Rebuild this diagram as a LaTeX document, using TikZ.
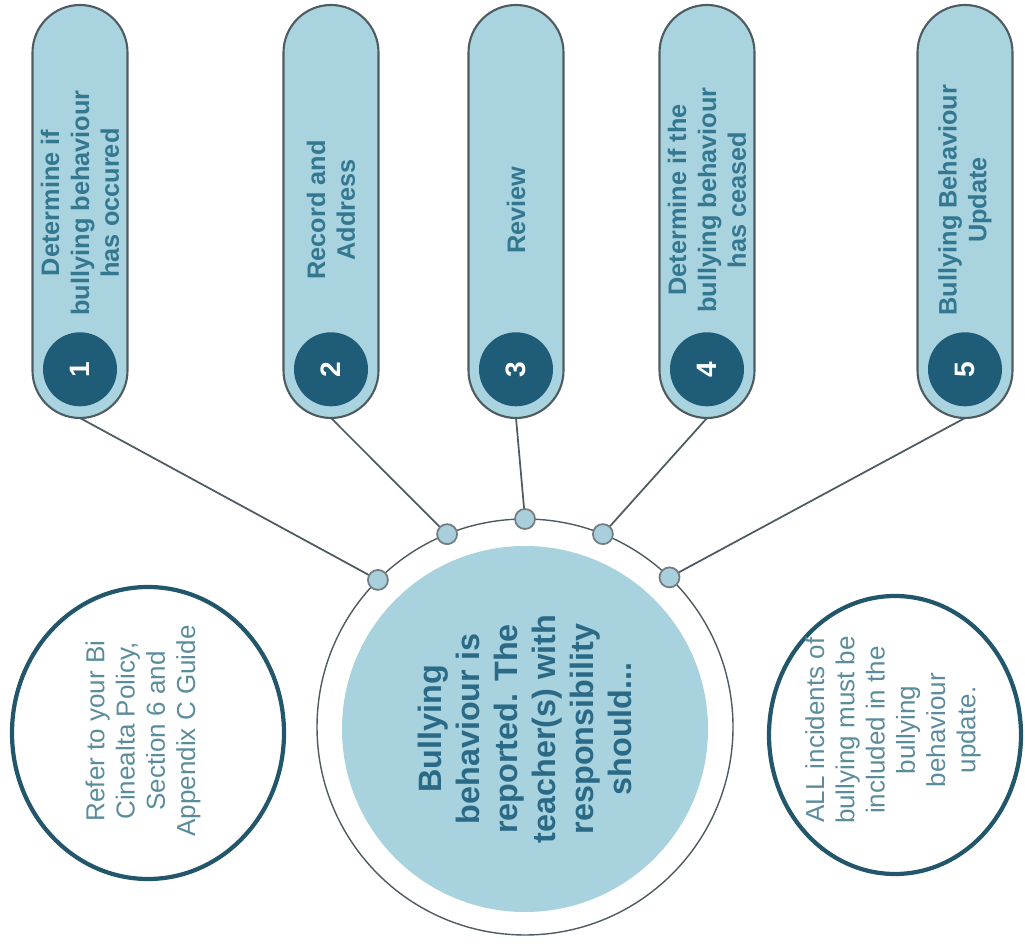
\documentclass[tikz,border=0pt]{standalone}
\usepackage{fontspec}
\setmainfont{Liberation Sans}
\usetikzlibrary{%
  positioning,%
  shapes.geometric%
}
\definecolor{pillblue}{HTML}{A9D4DF}
\definecolor{coreblue}{HTML}{A8D2DD}
\definecolor{numteal}{HTML}{1E5C78}
\definecolor{steptext}{HTML}{347791}
\definecolor{coretext}{HTML}{2A6A86}
\definecolor{sidetext}{HTML}{5A8C9C}
\definecolor{sidering}{HTML}{22566A}
\definecolor{edgegray}{HTML}{4E5C62}
\definecolor{dotblue}{HTML}{AACFDC}

\begin{document}
\begin{tikzpicture}[
    pill/.style={draw=edgegray, line width=.6pt, fill=pillblue,
      minimum width=.95cm, minimum height=4.13cm,
      rounded corners=.475cm, inner sep=0pt, outer sep=0pt},
    numdot/.style={circle, fill=numteal, minimum size=.74cm, inner sep=0pt,
      text=white, font=\fontsize{8}{8}\selectfont\bfseries},
    pilltext/.style={rotate=90, align=center, text=steptext,
      font=\fontsize{7.2}{8.5}\selectfont\bfseries},
    sidenote/.style={ellipse, draw=sidering, line width=1.2pt, inner sep=0pt},
    sidetxt/.style={rotate=90, align=center, text=sidetext,
      font=\fontsize{7.4}{8.6}\selectfont},
    hub/.style={circle, draw=edgegray, line width=.4pt, minimum size=4.16cm,
      inner sep=0pt, outer sep=0pt},
    link/.style={draw=edgegray, line width=.5pt},
    joint/.style={circle, draw=edgegray!80, line width=.5pt, fill=dotblue,
      minimum size=.2cm, inner sep=0pt}
  ]

    \useasboundingbox (0,0) rectangle (10.25,-9.45);

    %% the five steps
    \node[pill] (p1) at (0.80,-2.115) {};
    \node[pill] (p2) at (3.31,-2.115) {};
    \node[pill] (p3) at (5.16,-2.115) {};
    \node[pill] (p4) at (7.07,-2.115) {};
    \node[pill] (p5) at (9.65,-2.115) {};

    %% numbers
    \node[numdot, above=.11cm of p1.south] (n1) {\rotatebox{90}{1}};
    \node[numdot, above=.11cm of p2.south] (n2) {\rotatebox{90}{2}};
    \node[numdot, above=.11cm of p3.south] (n3) {\rotatebox{90}{3}};
    \node[numdot, above=.11cm of p4.south] (n4) {\rotatebox{90}{4}};
    \node[numdot, above=.11cm of p5.south] (n5) {\rotatebox{90}{5}};

    %% step texts
    \node[pilltext] (t1) at (0.80,-2.03) {Determine if\\bullying behaviour\\has occured};
    \node[pilltext] (t2) at (3.31,-2.10) {Record and\\Address};
    \node[pilltext] (t3) at (5.16,-2.10) {Review};
    \node[pilltext] (t4) at (7.07,-2.00) {Determine if the\\bullying behaviour\\has ceased};
    \node[pilltext] (t5) at (9.65,-2.00) {Bullying Behaviour\\Update};

    %%%%%%%%%%%%%%%%
    %% centre circle
    \node[hub] (ring) at (5.25,-7.27) {};
    \node[circle, fill=coreblue, minimum size=3.66cm, inner sep=0pt,
      rotate=90, align=center, text=coretext,
      font=\fontsize{9.2}{10.8}\selectfont\bfseries] (core) at (5.25,-7.29)
      {Bullying\\behaviour is\\reported. The\\teacher(s) with\\responsibility\\should...};

    %% connectors
    \draw[link] (ring.135) -- (p1.south);
    \draw[link] (ring.112) -- (p2.south);
    \draw[link] (ring.90)  -- (p3.south);
    \draw[link] (ring.68)  -- (p4.south);
    \draw[link] (ring.46)  -- (p5.south);

    %% dots on the ring
    \node[joint] (d1) at (ring.135) {};
    \node[joint] (d2) at (ring.112) {};
    \node[joint] (d3) at (ring.90)  {};
    \node[joint] (d4) at (ring.68)  {};
    \node[joint] (d5) at (ring.46)  {};

    %%%%%%%%%%%%%%%%
    %% side notes
    \node[sidenote, minimum width=2.72cm, minimum height=2.92cm] (policy) at (1.48,-7.33) {};
    \node[sidetxt] (policytxt) at (1.43,-7.31)
      {Refer to your Bi\\Cinealta Policy,\\Section 6 and\\Appendix C Guide};

    \node[sidenote, minimum width=2.52cm, minimum height=2.78cm] (update) at (8.95,-7.35) {};
    \node[sidetxt] (updatetxt) at (8.93,-7.30)
      {ALL incidents of\\bullying must be\\included in the\\bullying\\behaviour\\update.};

  \end{tikzpicture}
\end{document}
